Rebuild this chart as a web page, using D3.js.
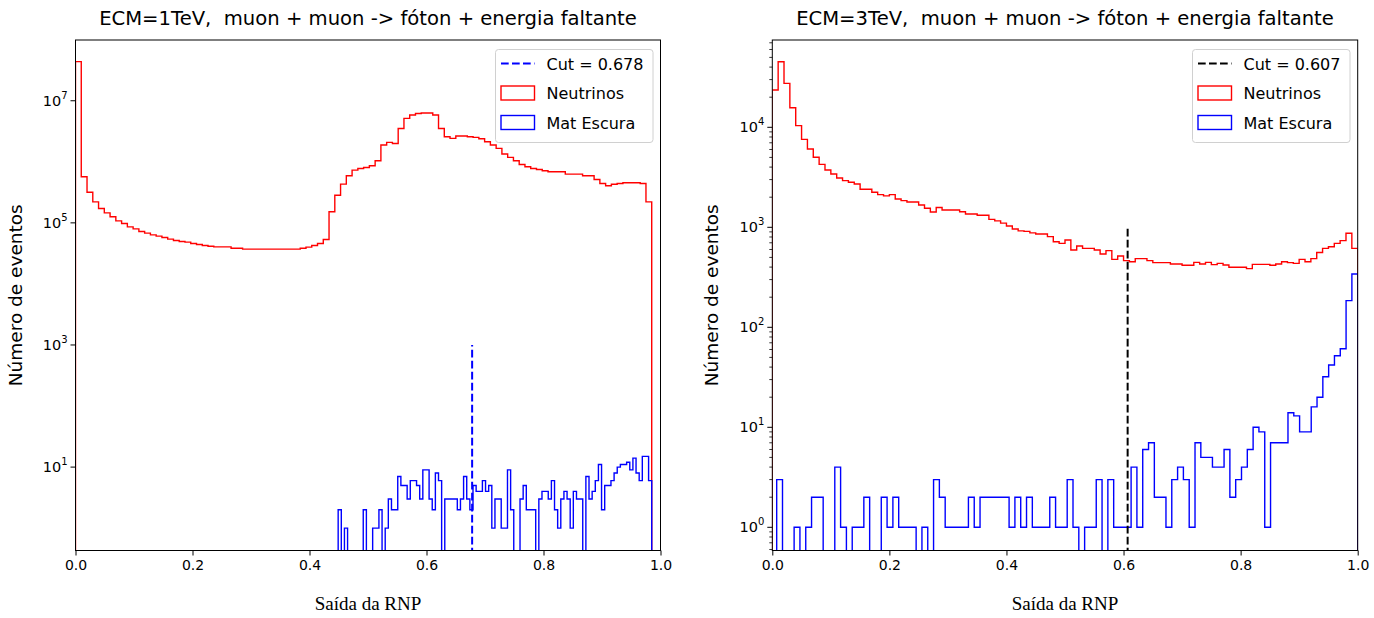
<!DOCTYPE html>
<html>
<head>
<meta charset="utf-8">
<script src="https://cdn.jsdelivr.net/npm/d3@7"></script>
<style>
  html, body { margin: 0; padding: 0; background: #ffffff; }
  svg { display: block; }
  text { fill: #000; white-space: pre; }
  .sans { font-family: "DejaVu Sans", sans-serif; }
  .serif { font-family: "Liberation Serif", "DejaVu Serif", serif; }
</style>
</head>
<body>
<svg id="chart" width="1374" height="618"></svg>
<script>
// ---------- data ----------
// ECM = 1 TeV : neural-network output histograms (100 bins each)
const leftTitle = "ECM=1TeV,  muon + muon -> fóton + energia faltante";
const leftCut = 0.678;
const leftCutTop = 1000;
const leftNuRange = [0.0, 0.985];
const leftNu = [
  4.37e7, 5.69e5, 3.18e5, 2.21e5, 1.72e5, 1.46e5, 1.26e5, 1.08e5, 9.77e4, 8.61e4,
  7.98e4, 7.22e4, 6.78e4, 6.37e4, 6.06e4, 5.76e4, 5.41e4, 5.14e4, 4.95e4, 4.83e4,
  4.59e4, 4.42e4, 4.25e4, 4.15e4, 4.05e4, 4.05e4, 4.05e4, 3.85e4, 3.85e4, 3.71e4,
  3.71e4, 3.71e4, 3.71e4, 3.71e4, 3.71e4, 3.71e4, 3.71e4, 3.71e4, 3.71e4, 3.85e4,
  4.0e4, 4.25e4, 4.59e4, 5.34e4, 1.52e5, 2.84e5, 4.31e5, 5.9e5, 7.31e5, 7.79e5,
  8.09e5, 8.61e5, 1.04e6, 1.88e6, 2.08e6, 2.0e6, 3.52e6, 5.14e6, 5.83e6, 6.2e6,
  6.3e6, 6.3e6, 5.83e6, 3.52e6, 2.57e6, 2.42e6, 2.64e6, 2.64e6, 2.57e6, 2.51e6,
  2.38e6, 2.13e6, 1.88e6, 1.66e6, 1.34e6, 1.18e6, 1.04e6, 9.06e5, 8.28e5, 7.79e5,
  7.5e5, 7.13e5, 6.86e5, 6.86e5, 6.86e5, 6.28e5, 6.28e5, 6.28e5, 5.9e5, 5.9e5,
  5.14e5, 4.42e5, 4.05e5, 4.3e5, 4.42e5, 4.53e5, 4.53e5, 4.53e5, 4.42e5, 2.21e5
];
const leftDmRange = [0.449, 0.985];
const leftDm = [
  2, 0, 1, 0, 0, 0, 0, 0, 2, 0,
  0, 1, 1, 2, 0, 1, 3, 2, 2, 7,
  5, 5, 3, 6, 6, 5, 3, 9, 9, 3,
  2, 8, 6, 0, 3, 3, 3, 3, 2, 3,
  7, 3, 2, 5, 4, 4, 6, 4, 5, 1,
  3, 3, 1, 1, 9, 2, 0, 0, 3, 5,
  2, 2, 2, 0, 3, 4, 4, 3, 6, 2,
  1, 3, 4, 3, 1, 4, 3, 3, 0, 7,
  3, 4, 6, 11, 2, 5, 5, 6, 8, 10,
  11, 11, 12, 9, 14, 8, 6, 15, 15, 6
];

// ECM = 3 TeV
const rightTitle = "ECM=3TeV,  muon + muon -> fóton + energia faltante";
const rightCut = 0.607;
const rightCutTop = 1000;
const rightNuRange = [0.0, 1.0];
const rightNu = [
  2.36e4, 4.53e4, 2.75e4, 1.57e4, 1.04e4, 7.58e3, 6.07e3, 5.01e3, 4.26e3, 3.74e3,
  3.41e3, 3.11e3, 2.93e3, 2.82e3, 2.71e3, 2.4e3, 2.4e3, 2.24e3, 2.12e3, 2.06e3,
  2.12e3, 1.92e3, 1.85e3, 1.79e3, 1.79e3, 1.67e3, 1.55e3, 1.42e3, 1.58e3, 1.49e3,
  1.49e3, 1.49e3, 1.43e3, 1.36e3, 1.36e3, 1.32e3, 1.32e3, 1.2e3, 1.16e3, 1.1e3,
  1.03e3, 960, 920, 910, 880, 857, 857, 806, 718, 691,
  746, 593, 650, 616, 616, 593, 541, 584, 478, 517,
  464, 453, 486, 486, 464, 443, 443, 443, 430, 430,
  417, 417, 446, 430, 446, 423, 436, 420, 398, 398,
  398, 386, 426, 426, 426, 417, 430, 453, 443, 436,
  478, 453, 486, 560, 616, 640, 691, 735, 871, 616
];
const rightDmRange = [0.0075, 1.0];
const rightDm = [
  3, 0, 0, 1, 0, 1, 2, 2, 0, 0,
  4, 1, 0, 1, 1, 2, 0, 0, 2, 1,
  2, 1, 1, 1, 0, 1, 0, 3, 2, 1,
  1, 1, 1, 2, 1, 2, 2, 2, 2, 2,
  1, 2, 1, 2, 1, 1, 1, 2, 1, 1,
  3, 1, 0, 1, 1, 3, 0, 3, 1, 1,
  1, 4, 1, 6, 7, 2, 2, 1, 3, 4,
  3, 1, 7, 5, 5, 4, 4, 6, 2, 3,
  4, 6, 10, 9, 1, 7, 7, 7, 14, 13,
  9, 9, 16, 20, 32, 42, 52, 61, 185, 341
];

const xTicks = [0.0, 0.2, 0.4, 0.6, 0.8, 1.0];
const leftYTicks = [1, 3, 5, 7];        // exponents of 10
const rightYTicks = [0, 1, 2, 3, 4];
const seriesNames = ["Neutrinos", "Mat Escura"];
const xLabel = "Saída da RNP";
const yLabel = "Número de eventos";

// ---------- drawing ----------
const svg = d3.select("#chart");
const NU_COLOR = "#ff0000", DM_COLOR = "#0000ff";

function drawPanel(cfg) {
  const { x0, x1, y0, y1 } = cfg.box;
  const x = d3.scaleLinear().domain([0, 1]).range([x0, x1]);
  const y = d3.scaleLog().domain(cfg.yDomain).range([y1, y0]);
  const g = svg.append("g");

  const clipId = "clip-" + cfg.id;
  svg.append("defs").append("clipPath").attr("id", clipId)
    .append("rect").attr("x", x0).attr("y", y0).attr("width", x1 - x0).attr("height", y1 - y0);

  const plot = g.append("g").attr("clip-path", `url(#${clipId})`);

  // step outline of a histogram; empty bins drop below the axis floor
  function stepPath(range, counts) {
    const n = counts.length;
    const edges = d3.range(n + 1).map(i => range[0] + (range[1] - range[0]) * i / n);
    const floor = y1 + 20;
    const yy = v => (v > 0 ? y(v) : floor);
    const p = d3.path();
    p.moveTo(x(edges[0]), floor);
    for (let i = 0; i < n; i++) {
      p.lineTo(x(edges[i]), yy(counts[i]));
      p.lineTo(x(edges[i + 1]), yy(counts[i]));
    }
    p.lineTo(x(edges[n]), floor);
    return p.toString();
  }

  plot.append("path").attr("d", stepPath(cfg.nuRange, cfg.nu))
    .attr("fill", "none").attr("stroke", NU_COLOR).attr("stroke-width", 1.4);
  plot.append("path").attr("d", stepPath(cfg.dmRange, cfg.dm))
    .attr("fill", "none").attr("stroke", DM_COLOR).attr("stroke-width", 1.4);

  // cut line
  plot.append("line")
    .attr("x1", x(cfg.cut)).attr("x2", x(cfg.cut))
    .attr("y1", y1 + 5).attr("y2", y(cfg.cutTop))
    .attr("stroke", cfg.cutColor).attr("stroke-width", 2)
    .attr("stroke-dasharray", "7.7,3.3");

  // frame
  g.append("rect").attr("x", x0).attr("y", y0).attr("width", x1 - x0).attr("height", y1 - y0)
    .attr("fill", "none").attr("stroke", "#000").attr("stroke-width", 1);

  // x axis
  const xAxis = d3.axisBottom(x).tickValues(xTicks).tickFormat(d3.format(".1f"))
    .tickSize(5).tickPadding(5);
  const xa = g.append("g").attr("transform", `translate(0,${y1})`).call(xAxis);
  xa.select(".domain").remove();
  xa.attr("font-family", null).attr("font-size", null);
  xa.selectAll("text").attr("class", "sans").style("font-size", "14px");

  // y axis: minor ticks
  if (cfg.minor) {
    const [lo, hi] = cfg.yDomain;
    const minors = [];
    for (let e = Math.floor(Math.log10(lo)); e <= Math.ceil(Math.log10(hi)); e++) {
      for (let m = 2; m <= 9; m++) {
        const v = m * Math.pow(10, e);
        if (v >= lo && v <= hi) minors.push(v);
      }
    }
    g.selectAll(null).data(minors).join("line")
      .attr("x1", x0 - 3).attr("x2", x0).attr("y1", d => y(d)).attr("y2", d => y(d))
      .attr("stroke", "#000").attr("stroke-width", 0.8);
  }
  // y axis: major ticks and 10^n labels
  cfg.yTicks.forEach(e => {
    const yy = y(Math.pow(10, e));
    g.append("line").attr("x1", x0 - 5).attr("x2", x0).attr("y1", yy).attr("y2", yy)
      .attr("stroke", "#000").attr("stroke-width", 1);
    const t = g.append("text").attr("class", "sans").attr("x", x0 - 8).attr("y", yy + 5)
      .attr("text-anchor", "end").style("font-size", "14.5px");
    t.append("tspan").text("10");
    t.append("tspan").style("font-size", "10px").attr("dy", -7).text(String(e));
  });

  // titles and labels
  g.append("text").attr("class", "sans").attr("x", (x0 + x1) / 2).attr("y", 25)
    .attr("text-anchor", "middle").style("font-size", "19.6px").text(cfg.title);
  g.append("text").attr("class", "serif").attr("x", (x0 + x1) / 2).attr("y", 610)
    .attr("text-anchor", "middle").style("font-size", "19px").text(xLabel);
  g.append("text").attr("class", "sans")
    .attr("transform", `translate(${cfg.yLabelX},${(y0 + y1) / 2}) rotate(-90)`)
    .attr("text-anchor", "middle").style("font-size", "18.5px").text(yLabel);

  // legend
  const lg = g.append("g").attr("transform", `translate(${cfg.legendX},49.5)`);
  lg.append("rect").attr("x", 0).attr("y", 0).attr("width", 157.5).attr("height", 93)
    .attr("rx", 3).attr("fill", "#fff").attr("fill-opacity", 0.8)
    .attr("stroke", "#d0d0d0").attr("stroke-width", 1);
  const rows = [
    { kind: "line", color: cfg.cutColor, label: "Cut = " + cfg.cut.toFixed(3) },
    { kind: "rect", color: NU_COLOR, label: seriesNames[0] },
    { kind: "rect", color: DM_COLOR, label: seriesNames[1] }
  ];
  rows.forEach((r, i) => {
    const cy = 14 + i * 29.5;
    if (r.kind === "line") {
      lg.append("line").attr("x1", 5.5).attr("x2", 39).attr("y1", cy).attr("y2", cy)
        .attr("stroke", r.color).attr("stroke-width", 2).attr("stroke-dasharray", "7.7,3.3");
    } else {
      lg.append("rect").attr("x", 5.5).attr("y", cy - 7).attr("width", 33.5).attr("height", 14)
        .attr("fill", "none").attr("stroke", r.color).attr("stroke-width", 1.4);
    }
    lg.append("text").attr("class", "sans").attr("x", 51).attr("y", cy + 6)
      .style("font-size", "16px").text(r.label);
  });
}

drawPanel({
  id: "l", box: { x0: 75.5, x1: 660.5, y0: 40, y1: 550.5 },
  yDomain: [Math.pow(10, -0.366), Math.pow(10, 7.995)],
  nu: leftNu, nuRange: leftNuRange, dm: leftDm, dmRange: leftDmRange,
  cut: leftCut, cutTop: leftCutTop, cutColor: "#0000ff",
  yTicks: leftYTicks, minor: false, title: leftTitle, yLabelX: 22, legendX: 495.5
});
drawPanel({
  id: "r", box: { x0: 772.3, x1: 1357.7, y0: 40, y1: 550.5 },
  yDomain: [Math.pow(10, -0.232), Math.pow(10, 4.873)],
  nu: rightNu, nuRange: rightNuRange, dm: rightDm, dmRange: rightDmRange,
  cut: rightCut, cutTop: rightCutTop, cutColor: "#000000",
  yTicks: rightYTicks, minor: true, title: rightTitle, yLabelX: 718, legendX: 1192.5
});
</script>
</body>
</html>
